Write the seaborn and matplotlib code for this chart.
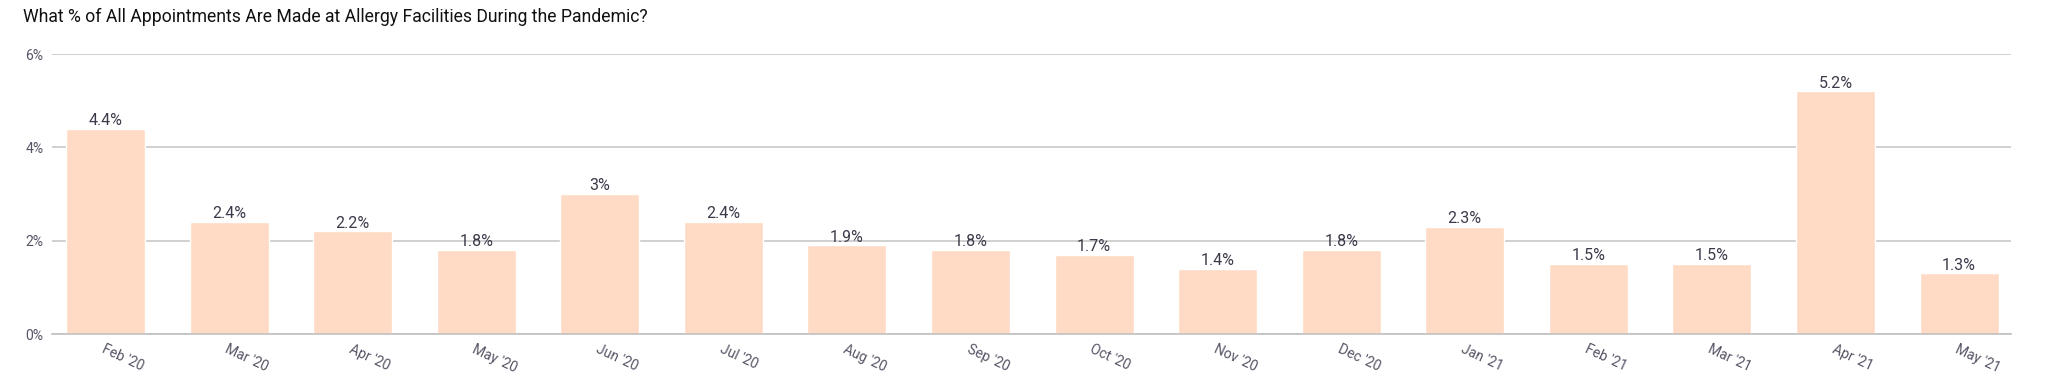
import matplotlib
matplotlib.use("Agg")
import matplotlib.pyplot as plt
import seaborn as sns
import pandas as pd

months = ["Feb '20", "Mar '20", "Apr '20", "May '20", "Jun '20", "Jul '20", "Aug '20", "Sep '20",
          "Oct '20", "Nov '20", "Dec '20", "Jan '21", "Feb '21", "Mar '21", "Apr '21", "May '21"]
values = [4.4, 2.4, 2.2, 1.8, 3.0, 2.4, 1.9, 1.8, 1.7, 1.4, 1.8, 2.3, 1.5, 1.5, 5.2, 1.3]
labels = ["4.4%", "2.4%", "2.2%", "1.8%", "3%", "2.4%", "1.9%", "1.8%",
          "1.7%", "1.4%", "1.8%", "2.3%", "1.5%", "1.5%", "5.2%", "1.3%"]
yticks = [0, 2, 4, 6]
ytick_labels = ["0%", "2%", "4%", "6%"]
title = "What % of All Appointments Are Made at Allergy Facilities During the Pandemic?"

sns.set_theme(style="white")
plt.rcParams['font.family'] = ['Roboto', 'DejaVu Sans']

df = pd.DataFrame({"month": months, "value": values})

fig = plt.figure(figsize=(20.48, 3.85), dpi=100)
ax = fig.add_axes([52/2048, 1-334/385, (2011-52)/2048, (334-54)/385])

sns.barplot(data=df, x="month", y="value", color="#FFDAC4", saturation=1, width=0.64, ax=ax, zorder=2)

ax.set_ylim(0, 6)
ax.set_xlim(-0.433, 15.42)
ax.set_yticks(yticks)
ax.set_yticklabels(ytick_labels, fontsize=10, color="#555566")
ax.yaxis.grid(True, color="#c8c8c8", linewidth=1.2, zorder=0)
ax.set_axisbelow(True)
ax.set_xlabel("")
ax.set_ylabel("")
for s in ["top", "right", "left"]:
    ax.spines[s].set_visible(False)
ax.spines["bottom"].set_color("#c0c0c0")
ax.spines["bottom"].set_linewidth(1.2)
ax.tick_params(axis="x", length=4, color="#b0b0b0", width=1, pad=2)
plt.setp(ax.get_xticklabels(), rotation=-25, ha="left", rotation_mode="anchor",
         fontsize=10, color="#555566")
for lab in ax.get_yticklabels():
    lab.set_horizontalalignment("left")
ax.tick_params(axis="y", length=0, pad=19)

for i, (v, t) in enumerate(zip(values, labels)):
    ax.annotate(t, (i, v), xytext=(0, 0.5), textcoords="offset points",
                ha="center", va="bottom", fontsize=11.5, color="#3a3a4a")

fig.text(23/2048, 1-17/385, title, fontsize=12.7, color="#111111", va="center", ha="left")

fig.savefig("out.png", dpi=100)
